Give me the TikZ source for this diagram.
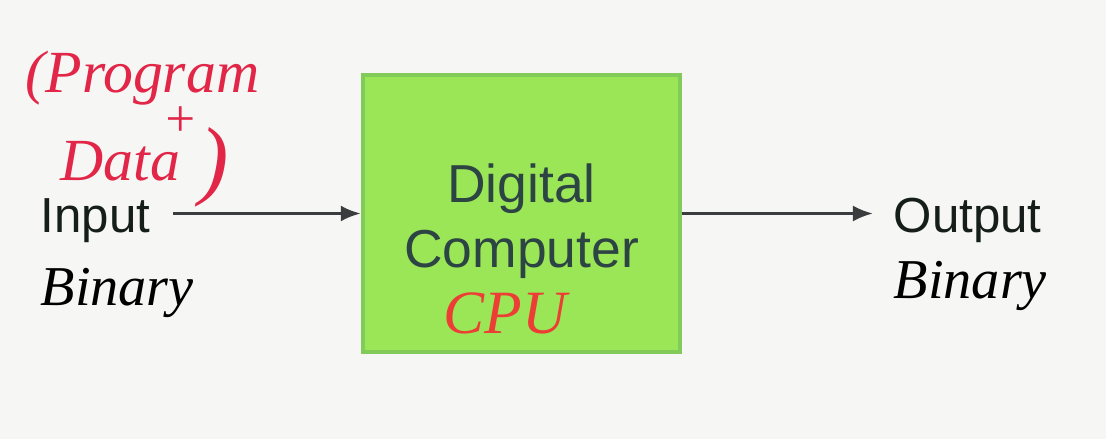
\documentclass[tikz,border=0pt]{standalone}
\usepackage{fontspec}
\setmainfont{Liberation Sans}
\newfontfamily\hand{Liberation Serif}
\usepackage{xcolor}
\usetikzlibrary{arrows.meta,positioning}
\definecolor{paper}{RGB}{246,247,244}
\definecolor{lime}{RGB}{155,230,86}
\definecolor{limeedge}{RGB}{130,203,90}
\definecolor{slate}{RGB}{45,68,68}
\definecolor{ink}{RGB}{22,30,28}
\definecolor{pen}{RGB}{226,38,72}
\definecolor{penred}{RGB}{236,62,52}
\definecolor{wire}{RGB}{58,60,62}
\begin{document}
\begin{tikzpicture}[x=0.01cm,y=-0.01cm,font=\fontsize{14}{16}\selectfont]
\tikzset{box/.style={draw=limeedge,line width=1.2pt,fill=lime,minimum width=3.17cm,minimum height=2.77cm},
  boxtext/.style={text=slate,align=center,inner sep=0pt,font=\fontsize{15.2}{18.4}\selectfont},
  io/.style={text=ink,inner sep=0pt},
  hw/.style={inner sep=0pt,font=\hand\itshape\fontsize{17}{20}\selectfont},
  flow/.style={-{Latex[length=0.2cm,width=0.16cm]},wire,line width=0.85pt}}
\fill[paper] (0,0) rectangle (1106,439);
\useasboundingbox (0,0) rectangle (1106,439);
\node[box] (cpu) at (521.5,213.5) {};
\node[boxtext] (cpuname) at ([yshift=-0.075cm]cpu.center) {Digital\\Computer};
\node[io,anchor=base west] (in) at (40,232) {Input};
\node[io,anchor=base west] (out) at (893,232) {Output};
\draw[flow,shorten <=0.22cm] (in.east |- cpu.west) -- (cpu.west);
\draw[flow,shorten >=0.2cm] (cpu.east) -- (cpu.east -| out.west);
\node[hw,text=pen,anchor=base west] (prog) at (25,92) {(Program};
\node[hw,text=pen,font=\hand\itshape\fontsize{15}{18}\selectfont] (plus) at (180,122) {+};
\node[hw,text=pen,anchor=base west] (data) at (60,180) {Data};
\node[hw,text=pen,font=\hand\itshape\fontsize{25}{27}\selectfont] (close) at (214,167) {)};
\node[hw,anchor=base west,font=\hand\itshape\fontsize{16}{19}\selectfont] (bin) at (40,305) {Binary};
\node[hw,anchor=base west,font=\hand\itshape\fontsize{16}{19}\selectfont] (bout) at (893,298) {Binary};
\node[hw,text=penred,anchor=base west,font=\hand\itshape\fontsize{17.5}{21}\selectfont] (cpul) at (443,333) {CPU};
\end{tikzpicture}
\end{document}
